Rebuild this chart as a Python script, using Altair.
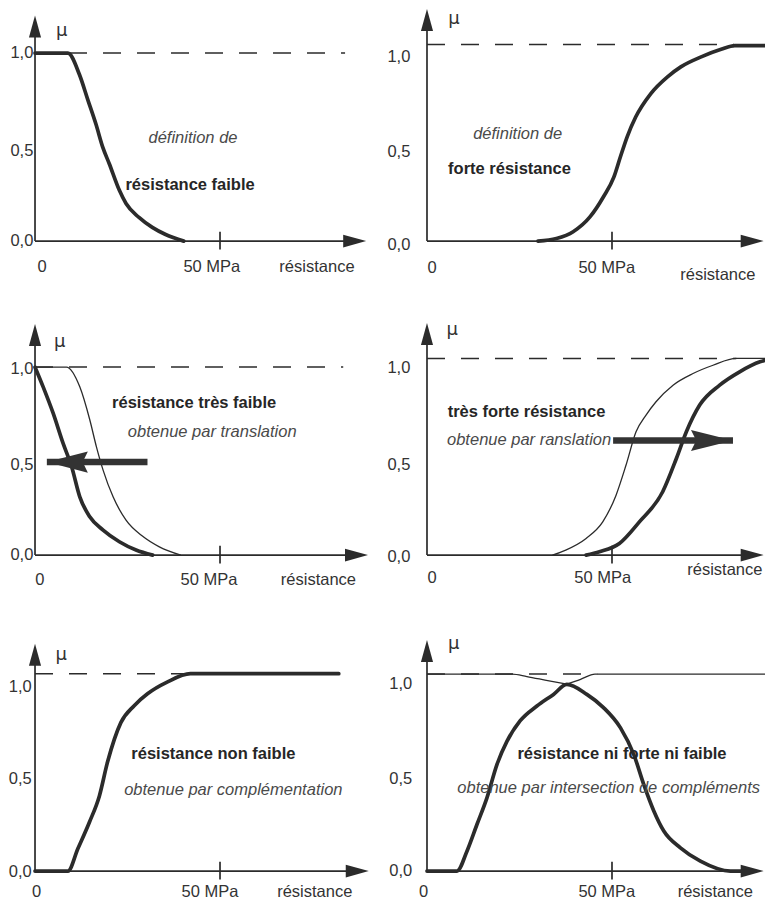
import altair as alt
import pandas as pd

# ---------------- values (x in MPa, y = mu) ----------------
# Panel 1 : définition de résistance faible
P1_X = [0, 8.9, 12.0, 14.3, 16.5, 18.3, 20.1, 22.8, 24.6, 28.1, 31.7, 35.3, 40.2]
P1_Y = [1.0, 1.0, 0.886, 0.75, 0.62, 0.50, 0.41, 0.27, 0.20, 0.126, 0.073, 0.035, 0.0]

# Panel 2 : définition de forte résistance
P2_X = [30, 35, 39.5, 44.1, 47.7, 50.5, 52.3, 54.1, 56.4, 60.5, 65, 68.6, 74.1, 79.5, 83.2, 93]
P2_Y = [0, 0.014, 0.05, 0.13, 0.236, 0.34, 0.45, 0.555, 0.66, 0.785, 0.874, 0.927, 0.98, 1.02, 1.04, 1.04]

# Panel 3 : résistance très faible (thick) and faible (thin)
P3_THIN_X = [0, 8.5, 12.1, 14.8, 16.6, 18.4, 21.1, 24.6, 29.1, 33.6, 39.4]
P3_THIN_Y = [1.0, 1.0, 0.895, 0.72, 0.576, 0.452, 0.31, 0.186, 0.1, 0.044, 0.0]
P3_THICK_X = [0, 2.2, 4.9, 7.6, 9.9, 12.1, 14.8, 18.4, 22.8, 27.3, 31.8]
P3_THICK_Y = [1.0, 0.895, 0.755, 0.594, 0.47, 0.31, 0.204, 0.133, 0.071, 0.027, 0.0]

# Panel 4 : très forte résistance (thick) and forte (thin)
P4_THIN_X = [33.9, 37.5, 43, 47.5, 51.1, 53.8, 56.5, 59.2, 61.9, 66.5, 71.9, 77.3, 83.6, 95]
P4_THIN_Y = [0, 0.027, 0.089, 0.177, 0.319, 0.479, 0.656, 0.745, 0.816, 0.904, 0.966, 1.01, 1.046, 1.046]
P4_THICK_X = [43, 46.6, 52, 57.4, 63.7, 67.4, 70.1, 73.7, 79.1, 84.5, 90, 94]
P4_THICK_Y = [0, 0.018, 0.062, 0.177, 0.337, 0.514, 0.656, 0.798, 0.904, 0.975, 1.028, 1.046]

# Panel 5 : résistance non faible
P5_X = [0, 8.9, 11.6, 14.7, 17.4, 19.6, 23.2, 26.8, 30.4, 35.7, 42, 82.1]
P5_Y = [0, 0, 0.12, 0.26, 0.40, 0.58, 0.79, 0.88, 0.943, 1.005, 1.05, 1.05]

# Panel 6 : résistance ni forte ni faible (thick) and the two complements (thin)
P6_X = [0, 8.1, 10.8, 13.5, 16.2, 18.9, 21.6, 25.2, 29.7, 34.2, 37.8, 43.2, 47.7,
        52.3, 55.9, 58.6, 61.3, 64, 68.5, 73.9, 82, 88]
P6_Y = [0, 0, 0.106, 0.248, 0.39, 0.567, 0.69, 0.80, 0.878, 0.94, 0.993, 0.94, 0.87,
        0.762, 0.62, 0.46, 0.32, 0.213, 0.124, 0.053, 0, 0]
P6_THIN_A_X = [0, 23, 27, 33, 37.8]
P6_THIN_A_Y = [1.048, 1.048, 1.035, 1.012, 0.995]
P6_THIN_B_X = [37.8, 41.5, 45.4, 92]
P6_THIN_B_Y = [0.995, 1.02, 1.048, 1.048]

# Axis tick labels
Y_TICK_TEXT = ["1,0", "0,5", "0,0"]
X_TICK_TEXT = ["0", "50 MPa", "résistance"]

# ---------------- styling ----------------
FONT = "Liberation Sans"
INK = "#2b2b2b"
TXT = "#333333"
ITAL = "#4a4a4a"
PX_PER_MPA = 3.7
PX_PER_MU = 188
Y_TOP = 1.24

LEFT_W, RIGHT_W = 367, 380
LEFT_DOM = [-7.3, -7.3 + LEFT_W / PX_PER_MPA]
RIGHT_DOM = [-11.35, -11.35 + RIGHT_W / PX_PER_MPA]
H_FULL, H_LAST = 308, 261

UP_ARROW = "M0,0L0.55,2L-0.55,2Z"
RIGHT_ARROW = "M0,0L-2,-0.55L-2,0.55Z"
BIG_LEFT = "M0,0L2,-0.52L1.75,0L2,0.52Z"
BIG_RIGHT = "M0,0L-2,-0.5L-1.75,0L-2,0.5Z"


def enc(xdom, ydom, extra=None):
    e = dict(
        x=alt.X("x:Q", scale=alt.Scale(domain=xdom, nice=False, zero=False), axis=None),
        y=alt.Y("y:Q", scale=alt.Scale(domain=ydom, nice=False, zero=False), axis=None),
    )
    if extra:
        e.update(extra)
    return e


def panel(spec, width, height, xdom):
    ydom = [Y_TOP - height / PX_PER_MU, Y_TOP]
    layers = []

    # dashed level line
    lvl, dx0, dx1 = spec["dash"]
    layers.append(
        alt.Chart(pd.DataFrame({"x": [dx0], "x2": [dx1], "y": [lvl]}))
        .mark_rule(color=INK, strokeWidth=1.5, strokeDash=[18, 16])
        .encode(**enc(xdom, ydom, {"x2": "x2:Q"}))
    )
    # axes
    ytip, xtip = spec["ytip"], spec["xtip"]
    layers.append(
        alt.Chart(pd.DataFrame({"x": [0], "y": [0], "y2": [ytip - 0.08]}))
        .mark_rule(color=INK, strokeWidth=1.7)
        .encode(**enc(xdom, ydom, {"y2": "y2:Q"}))
    )
    layers.append(
        alt.Chart(pd.DataFrame({"x": [0], "x2": [xtip - 4], "y": [0]}))
        .mark_rule(color=INK, strokeWidth=1.7)
        .encode(**enc(xdom, ydom, {"x2": "x2:Q"}))
    )
    layers.append(
        alt.Chart(pd.DataFrame({"x": [50], "y": [-0.045], "y2": [0.05]}))
        .mark_rule(color=INK, strokeWidth=1.7)
        .encode(**enc(xdom, ydom, {"y2": "y2:Q"}))
    )
    layers.append(
        alt.Chart(pd.DataFrame({"x": [0], "y": [ytip]}))
        .mark_point(shape=UP_ARROW, size=484, filled=True, color=INK, opacity=1, strokeWidth=0)
        .encode(**enc(xdom, ydom))
    )
    layers.append(
        alt.Chart(pd.DataFrame({"x": [xtip], "y": [0]}))
        .mark_point(shape=RIGHT_ARROW, size=529, filled=True, color=INK, opacity=1, strokeWidth=0)
        .encode(**enc(xdom, ydom))
    )

    # curves
    for xs, ys in spec.get("thin", []):
        layers.append(
            alt.Chart(pd.DataFrame({"x": xs, "y": ys}))
            .mark_line(color=INK, strokeWidth=1.3, interpolate="monotone", clip=True)
            .encode(**enc(xdom, ydom))
        )
    for xs, ys in spec.get("thick", []):
        layers.append(
            alt.Chart(pd.DataFrame({"x": xs, "y": ys}))
            .mark_line(color=INK, strokeWidth=3.7, interpolate="monotone", clip=True,
                       strokeJoin="round", strokeCap="round")
            .encode(**enc(xdom, ydom))
        )

    # big translation arrow
    if spec.get("big"):
        direction, tip, base_end, ay = spec["big"]
        layers.append(
            alt.Chart(pd.DataFrame({"x": [tip], "x2": [base_end], "y": [ay]}))
            .mark_rule(color="#333333", strokeWidth=6.5)
            .encode(**enc(xdom, ydom, {"x2": "x2:Q"}))
        )
        shape, size = (BIG_LEFT, 1681) if direction == "left" else (BIG_RIGHT, 1764)
        layers.append(
            alt.Chart(pd.DataFrame({"x": [tip], "y": [ay]}))
            .mark_point(shape=shape, size=size, filled=True, color="#333333", opacity=1, strokeWidth=0)
            .encode(**enc(xdom, ydom))
        )

    # texts
    yl_x, yl_ys = spec["ylab"]
    layers.append(
        alt.Chart(pd.DataFrame({"x": [yl_x] * 3, "y": yl_ys, "t": Y_TICK_TEXT}))
        .mark_text(font=FONT, fontSize=16.5, align="right", baseline="middle", color=TXT)
        .encode(**enc(xdom, ydom, {"text": "t:N"}))
    )
    xl_xs, xl_ys = spec["xlab"]
    layers.append(
        alt.Chart(pd.DataFrame({"x": xl_xs, "y": xl_ys, "t": X_TICK_TEXT}))
        .mark_text(font=FONT, fontSize=16.5, align="center", baseline="middle", color=TXT)
        .encode(**enc(xdom, ydom, {"text": "t:N"}))
    )
    mx, my = spec["mu"]
    layers.append(
        alt.Chart(pd.DataFrame({"x": [mx], "y": [my], "t": ["μ"]}))
        .mark_text(font="DejaVu Sans", fontSize=18, align="center", baseline="middle", color=TXT)
        .encode(**enc(xdom, ydom, {"text": "t:N"}))
    )
    bx, by, btxt = spec["bold"]
    layers.append(
        alt.Chart(pd.DataFrame({"x": [bx], "y": [by], "t": [btxt]}))
        .mark_text(font=FONT, fontSize=16.5, fontWeight="bold", align="center",
                   baseline="middle", color="#262626")
        .encode(**enc(xdom, ydom, {"text": "t:N"}))
    )
    ix, iy, itxt = spec["ital"]
    layers.append(
        alt.Chart(pd.DataFrame({"x": [ix], "y": [iy], "t": [itxt]}))
        .mark_text(font=FONT, fontSize=16.5, fontStyle="italic", align="center",
                   baseline="middle", color=ITAL)
        .encode(**enc(xdom, ydom, {"text": "t:N"}))
    )
    return alt.layer(*layers).properties(width=width, height=height)


SPECS = [
    dict(dash=(1.0, 0, 83.8), ytip=1.2, xtip=89.5,
         thick=[(P1_X, P1_Y)],
         ylab=(-0.45, [1.0, 0.48, 0.0]),
         xlab=([1.9, 47.8, 76.2], [-0.14, -0.14, -0.14]),
         mu=(7.2, 1.12),
         bold=(41.9, 0.30, "résistance faible"),
         ital=(42.7, 0.55, "définition de")),
    dict(dash=(1.046, 0, 83), ytip=1.235, xtip=91,
         thick=[(P2_X, P2_Y)],
         ylab=(-4.5, [0.98, 0.475, -0.02]),
         xlab=([1.4, 48.6, 78.6], [-0.145, -0.145, -0.18]),
         mu=(7.3, 1.18),
         bold=(22.3, 0.386, "forte résistance"),
         ital=(24.5, 0.57, "définition de")),
    dict(dash=(1.0, 0, 83.3), ytip=1.23, xtip=90,
         thin=[(P3_THIN_X, P3_THIN_Y)], thick=[(P3_THICK_X, P3_THICK_Y)],
         big=("left", 3.2, 30.4, 0.495),
         ylab=(-0.45, [0.99, 0.48, 0.0]),
         xlab=([1.3, 47, 76.6], [-0.13, -0.13, -0.13]),
         mu=(6.7, 1.135),
         bold=(43, 0.807, "résistance très faible"),
         ital=(47.9, 0.656, "obtenue par translation")),
    dict(dash=(1.046, 0, 83.6), ytip=1.235, xtip=91,
         thin=[(P4_THIN_X, P4_THIN_Y)], thick=[(P4_THICK_X, P4_THICK_Y)],
         big=("right", 82.7, 50.3, 0.61),
         ylab=(-4.5, [0.993, 0.479, -0.01]),
         xlab=([1.4, 47.5, 80.5], [-0.124, -0.124, -0.08]),
         mu=(6.8, 1.197),
         bold=(26.9, 0.762, "très forte résistance"),
         ital=(27.6, 0.612, "obtenue par ranslation")),
    dict(dash=(1.05, 0, 42), ytip=1.21, xtip=90.2,
         thick=[(P5_X, P5_Y)],
         ylab=(-0.9, [0.979, 0.49, -0.005]),
         xlab=([0.45, 47.3, 75.6], [-0.11, -0.11, -0.11]),
         mu=(7.1, 1.147),
         bold=(48.2, 0.624, "résistance non faible"),
         ital=(53.6, 0.43, "obtenue par complémentation")),
    dict(dash=(1.048, 0, 46), ytip=1.23, xtip=91,
         thin=[(P6_THIN_A_X, P6_THIN_A_Y), (P6_THIN_B_X, P6_THIN_B_Y)],
         thick=[(P6_X, P6_Y)],
         ylab=(-4.0, [0.993, 0.488, 0.0]),
         xlab=([-0.9, 48.6, 77.9], [-0.11, -0.11, -0.11]),
         mu=(7.2, 1.206),
         bold=(52.7, 0.624, "résistance ni forte ni faible"),
         ital=(49.1, 0.443, "obtenue par intersection de  compléments")),
]

rows = []
for r in range(3):
    h = H_LAST if r == 2 else H_FULL
    left = panel(SPECS[2 * r], LEFT_W, h, LEFT_DOM)
    right = panel(SPECS[2 * r + 1], RIGHT_W, h, RIGHT_DOM)
    rows.append(alt.hconcat(left, right, spacing=10))

chart = (
    alt.vconcat(*rows, spacing=5)
    .properties(padding=0, background="white")
    .configure_view(stroke=None)
)

chart.save("out.html", embed_options={"renderer": "svg", "actions": False})
